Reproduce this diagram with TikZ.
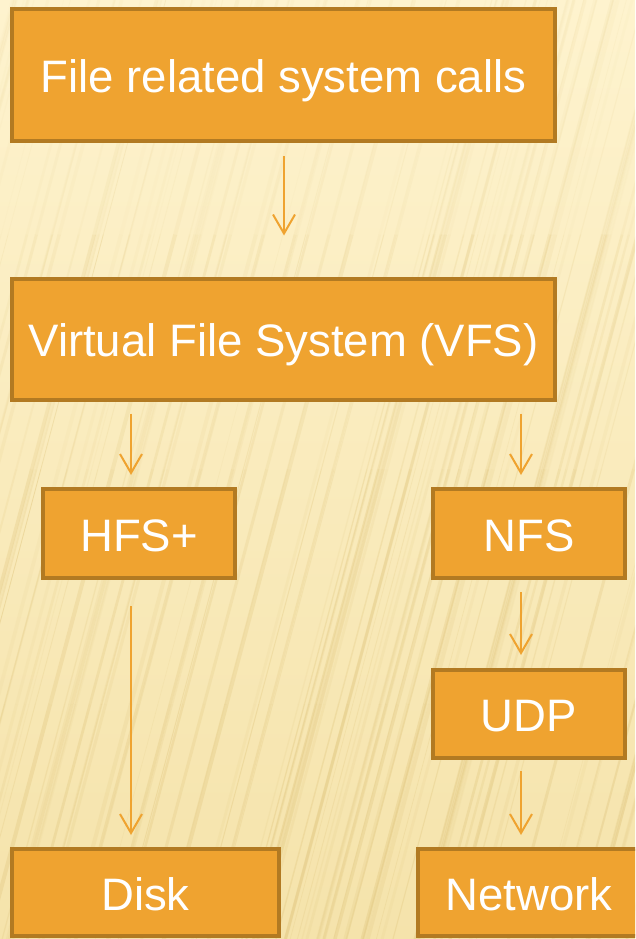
\documentclass[tikz,border=0pt]{standalone}
\usepackage{fontspec}
\setmainfont{Liberation Sans}
\usetikzlibrary{arrows.meta}
\definecolor{bgcream}{HTML}{FEF3CE}
\definecolor{bgtan}{HTML}{F5E3AB}
\definecolor{streak}{HTML}{E3C983}
\definecolor{boxfill}{HTML}{EFA330}
\definecolor{boxedge}{HTML}{B27A22}
\definecolor{arrowc}{HTML}{EFA330}
\tikzset{
  layerbox/.style={draw=boxedge, line width=4pt, fill=boxfill, text=white,
    font=\fontsize{45.5}{50}\selectfont, inner sep=0pt, anchor=center,
    text height=35pt, text depth=0pt},
  flow/.style={draw=arrowc, line width=2pt,
    -{Straight Barb[length=19pt,width=22pt,line width=2pt]}}
}
\begin{document}
\begin{tikzpicture}[x=1pt,y=-1pt]
\useasboundingbox (0,0) rectangle (635,939);
\clip (0,0) rectangle (635,939);
% paper background with slanted streaks
\shade[top color=bgcream, bottom color=bgtan] (0,0) rectangle (635,939);
\pgfmathsetseed{11}
\foreach \i in {1,...,130}{
  \pgfmathsetmacro\xx{rnd*950-280}
  \pgfmathsetmacro\w{0.6+rnd*3.5}
  \pgfmathsetmacro\op{0.12+rnd*0.3}
  \foreach \t/\f in {0/1,0.25/0.85,0.5/0.6,0.75/0.3}{
    \pgfmathsetmacro\ya{939-\t*939}
    \pgfmathsetmacro\yb{939-(\t+0.25)*939}
    \pgfmathsetmacro\xa{\xx+\t*250}
    \pgfmathsetmacro\xb{\xx+(\t+0.25)*250}
    \pgfmathsetmacro\oo{\op*\f}
    \draw[streak, line width=\w pt, opacity=\oo] (\xa,\ya) -- (\xb,\yb);
  }
}
% layers
\node[layerbox, minimum width=543pt, minimum height=132pt] (calls) at (283.5,75) {File related system calls};
\node[layerbox, minimum width=543pt, minimum height=121pt] (vfs) at (283.5,339) {Virtual File System (VFS)};
\node[layerbox, minimum width=192pt, minimum height=89pt] (hfs) at (139,533.5) {HFS+};
\node[layerbox, minimum width=192pt, minimum height=89pt] (nfs) at (529,533.5) {NFS};
\node[layerbox, minimum width=192pt, minimum height=88pt] (udp) at (529,714) {UDP};
\node[layerbox, minimum width=267pt, minimum height=87pt] (disk) at (145.5,892.5) {Disk};
\node[layerbox, minimum width=236pt, minimum height=87pt, text width=236pt, align=center] (net) at (536,892.5) {Network\hspace*{14pt}};
% arrow columns
\coordinate (colM) at (284,0);
\coordinate (colL) at (131,0);
\coordinate (colR) at (521,0);
% connectors
\draw[flow] ([yshift=-13pt]calls.south -| colM) -- ([yshift=41pt]vfs.north -| colM);
\draw[flow] ([yshift=-12pt]vfs.south -| colL) -- ([yshift=12pt]hfs.north -| colL);
\draw[flow] ([yshift=-12pt]vfs.south -| colR) -- ([yshift=12pt]nfs.north -| colR);
\draw[flow] ([yshift=-12pt]nfs.south -| colR) -- ([yshift=13pt]udp.north -| colR);
\draw[flow] ([yshift=-26pt]hfs.south -| colL) -- ([yshift=12pt]disk.north -| colL);
\draw[flow] ([yshift=-11pt]udp.south -| colR) -- ([yshift=12pt]net.north -| colR);
\end{tikzpicture}
\end{document}
